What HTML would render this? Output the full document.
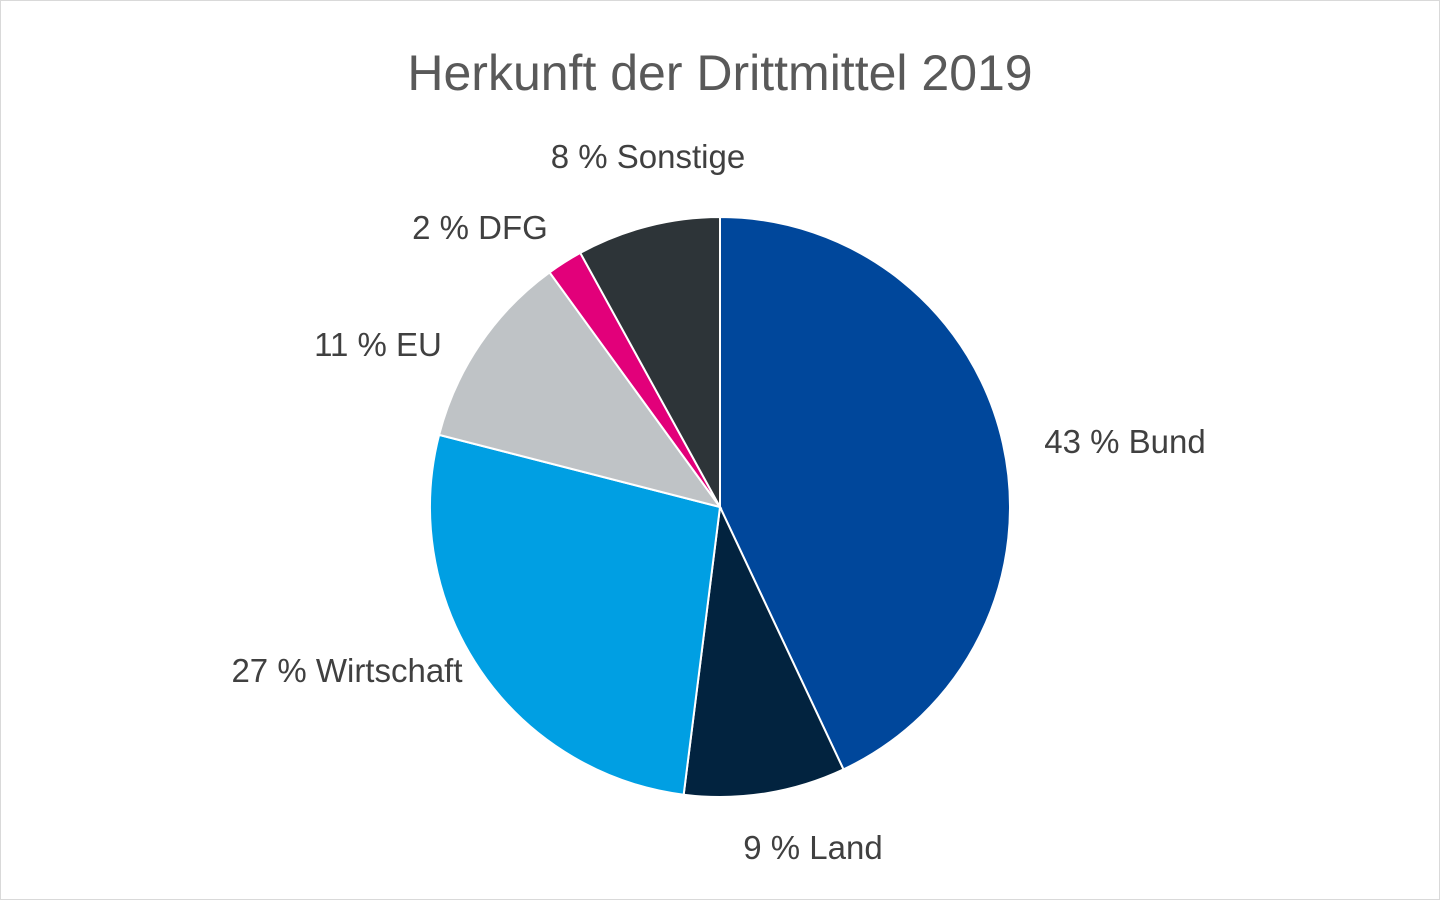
<!DOCTYPE html>
<html><head><meta charset="utf-8"><style>
html,body{margin:0;padding:0;background:#fff;}
svg{display:block;}
</style></head><body>
<svg width="1440" height="900" viewBox="0 0 1440 900">
<rect x="0.5" y="0.5" width="1439" height="899" fill="#fff" stroke="#d9d9d9"/>
<text x="720" y="90" text-anchor="middle" font-family="Liberation Sans, sans-serif" font-size="50" font-weight="300" fill="#595959">Herkunft der Drittmittel 2019</text>
<g id="slices"></g>
<g id="labels"></g>
</svg>
<script>
const categories = ["Bund","Land","Wirtschaft","EU","DFG","Sonstige"];
const values = [43,9,27,11,2,8];
const colors = ["#00479b","#02233f","#009fe3","#bfc3c6","#e2007a","#2d3438"];
const labelPos = [[1125,441],[813,847],[347,670],[378,344],[480,227],[648,156]];
const cx=720, cy=507, r=290;
const NS="http://www.w3.org/2000/svg";
const total=values.reduce((a,b)=>a+b,0);
const gS=document.getElementById('slices'), gL=document.getElementById('labels');
function pt(a){return [cx+r*Math.sin(a), cy-r*Math.cos(a)];}
let acc=0;
values.forEach((v,i)=>{
  const a0=acc/total*2*Math.PI; acc+=v; const a1=acc/total*2*Math.PI;
  const p0=pt(a0), p1=pt(a1);
  const large=(a1-a0)>Math.PI?1:0;
  const path=document.createElementNS(NS,'path');
  path.setAttribute('d',`M${cx},${cy} L${p0[0]},${p0[1]} A${r},${r} 0 ${large} 1 ${p1[0]},${p1[1]} Z`);
  path.setAttribute('fill',colors[i]);
  path.setAttribute('stroke','#fff');
  path.setAttribute('stroke-width','2');
  
  
  gS.appendChild(path);
  const t=document.createElementNS(NS,'text');
  t.setAttribute('x',labelPos[i][0]); t.setAttribute('y',labelPos[i][1]+12);
  t.setAttribute('text-anchor','middle');
  t.setAttribute('font-family','Liberation Sans, sans-serif');
  t.setAttribute('font-size','33');
  t.setAttribute('fill','#404040');
  
  
  t.textContent=v+' % '+categories[i];
  gL.appendChild(t);
});
</script>
</body></html>
